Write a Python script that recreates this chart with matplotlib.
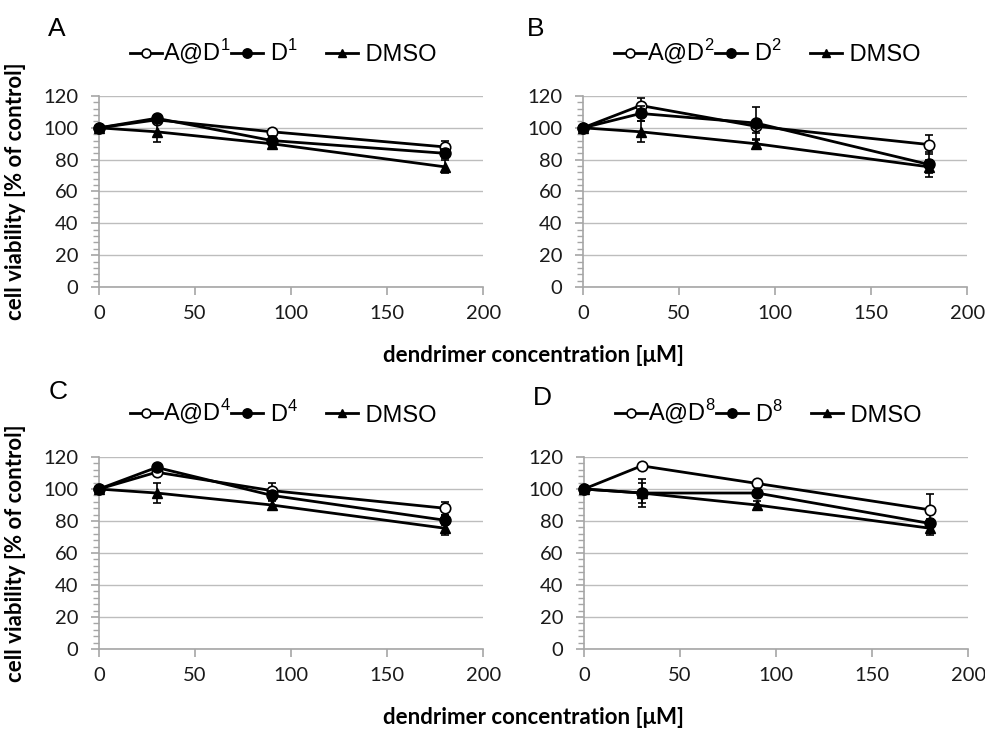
import matplotlib
matplotlib.use("Agg")
import matplotlib.pyplot as plt
from matplotlib.ticker import MultipleLocator

plt.rcParams["mathtext.fontset"] = "custom"
plt.rcParams["mathtext.rm"] = "Liberation Sans"

# concentrations [uM]
conc = [0, 30, 90, 180]

# cell viability [% of control], mean and error per panel
a_d1 = [100, 105, 97.5, 88]
a_d1_err = [0, 2, 2, 4]
d1 = [100, 106, 92, 84]
d1_err = [0, 2, 3, 3]

a_d2 = [100, 114, 101, 89.5]
a_d2_err = [0, 5, 4, 6]
d2 = [100, 109, 103, 77]
d2_err = [0, 5, 10, 8]

a_d4 = [100, 110.5, 99, 88]
a_d4_err = [0, 2, 5, 4]
d4 = [100, 113.5, 96, 80.5]
d4_err = [0, 2, 3, 3]

a_d8 = [100, 114.5, 103.5, 87]
a_d8_err = [0, 1, 1, 10]
d8 = [100, 97.5, 97.5, 78.5]
d8_err = [0, 9, 2, 3]

dmso = [100, 97.5, 90, 75.5]
dmso_err = [0, 6.5, 2.5, 4]

panel_letters = ["A", "B", "C", "D"]
generations = ["1", "2", "4", "8"]
loaded = [a_d1, a_d2, a_d4, a_d8]
loaded_err = [a_d1_err, a_d2_err, a_d4_err, a_d8_err]
plain = [d1, d2, d4, d8]
plain_err = [d1_err, d2_err, d4_err, d8_err]

x_ticks = [0, 50, 100, 150, 200]
y_ticks = [0, 20, 40, 60, 80, 100, 120]

tick_font = "Lato"
label_font = "Lato"
legend_font = "Liberation Sans"

fig = plt.figure(figsize=(9.85, 7.31), dpi=100)

# axes boxes in figure fraction: left, bottom, width, height
boxes = [
    [0.1005, 0.6074, 0.39, 0.2613],
    [0.5919, 0.6074, 0.39, 0.2613],
    [0.1005, 0.1122, 0.39, 0.2626],
    [0.5929, 0.1122, 0.39, 0.2626],
]
# panel letter positions (figure fraction, top-left of the glyph)
letter_pos = [(0.049, 0.977), (0.535, 0.977), (0.049, 0.480), (0.541, 0.472)]

grey = "#a6a6a6"
grid_grey = "#bdbdbd"

for i, box in enumerate(boxes):
    ax = fig.add_axes(box)
    g = generations[i]
    kw = dict(color="black", lw=2, capsize=3, elinewidth=1.2, capthick=1.2, clip_on=False)
    h1 = ax.errorbar(conc, loaded[i], yerr=loaded_err[i], marker="o", ms=7.5,
                     mfc="white", mec="black", mew=1.2, zorder=3, **kw)
    h2 = ax.errorbar(conc, plain[i], yerr=plain_err[i], marker="o", ms=8,
                     mfc="black", mec="black", zorder=4, **kw)
    h3 = ax.errorbar(conc, dmso, yerr=dmso_err, marker="^", ms=7.5,
                     mfc="black", mec="black", zorder=5, **kw)

    ax.set_xlim(0, 200)
    ax.set_ylim(0, 120)
    ax.set_xticks(x_ticks)
    ax.set_yticks(y_ticks)
    ax.yaxis.set_minor_locator(MultipleLocator(4))
    ax.grid(axis="y", color=grid_grey, lw=1)
    ax.set_axisbelow(True)
    for s in ["top", "right"]:
        ax.spines[s].set_visible(False)
    for s in ["left", "bottom"]:
        ax.spines[s].set_color(grey)
        ax.spines[s].set_linewidth(1.2)
    ax.tick_params(axis="both", which="major", direction="out", color=grey,
                   length=6, width=1.2, labelsize=14.5, pad=7)
    ax.tick_params(axis="y", which="major", pad=9)
    ax.tick_params(axis="y", which="minor", direction="out", color=grey,
                   length=4, width=1)
    for lab in ax.get_xticklabels() + ax.get_yticklabels():
        lab.set_fontfamily(tick_font)
        lab.set_color("#1a1a1a")

    # legend uses the plain line handles (no error bars)
    sup = "$^{\\mathregular{" + g + "}}$"
    ax.legend([h1[0], h2[0], h3[0]],
              ["A@D" + sup, " D" + sup + "     ", " DMSO"],
              loc="center", bbox_to_anchor=(0.48, 1.23), ncol=3,
              frameon=False, handlelength=1.35, handletextpad=0.05,
              columnspacing=0.0, markerscale=0.85,
              prop={"family": legend_font, "size": 17})

    lx, ly = letter_pos[i]
    fig.text(lx, ly, panel_letters[i], fontsize=19, family=legend_font,
             ha="left", va="top")

    if i % 2 == 0:
        ax.set_ylabel("cell viability [% of control]", fontsize=16,
                      fontweight="bold", family=label_font)
        ax.yaxis.set_label_coords(-0.19, 0.5)

for y in [0.514, 0.018]:
    fig.text(0.542, y, "dendrimer concentration [\u03bcM]", ha="center",
             va="center", fontsize=16, fontweight="bold", family=label_font)

fig.savefig("out.png", dpi=100)
